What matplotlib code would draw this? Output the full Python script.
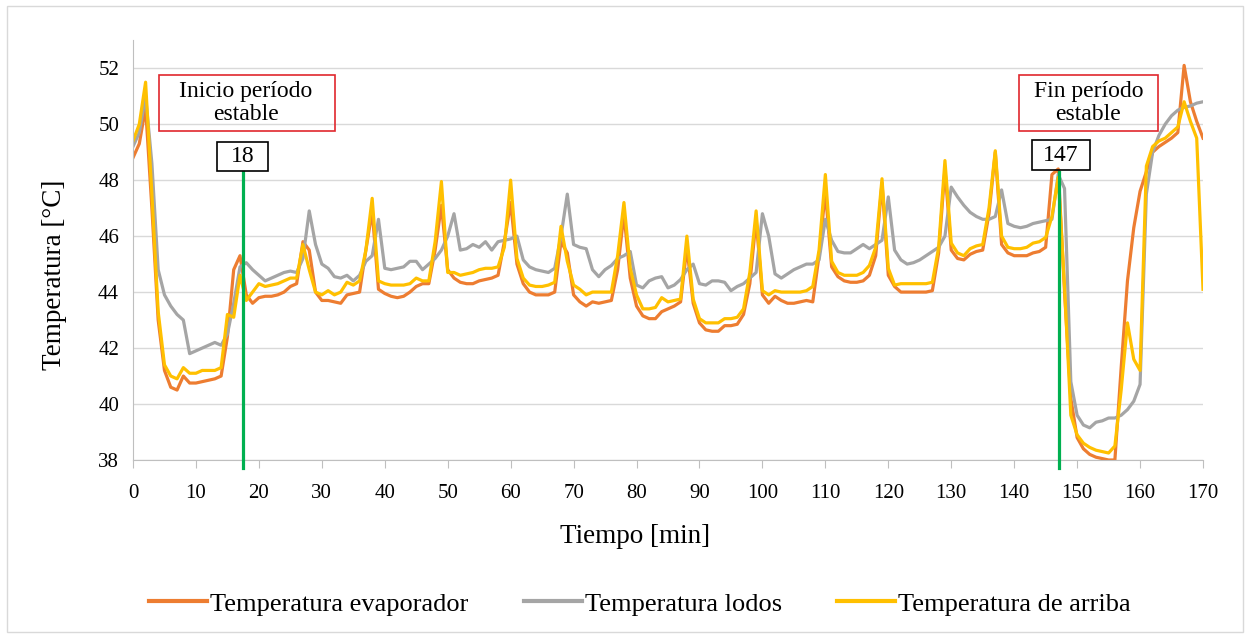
import numpy as np
import matplotlib
matplotlib.use('Agg')
import matplotlib.pyplot as plt
from matplotlib.patches import Rectangle

plt.rcParams['font.family'] = ['Liberation Serif', 'DejaVu Serif']

# tiempo [min], 0..170
tiempo = np.arange(0, 171)

evaporador = [
    48.8, 49.3, 50.6, 47.0, 43.0, 41.2, 40.6, 40.5, 41.0, 40.75,
    40.75, 40.8, 40.85, 40.9, 41.0, 42.4, 44.8, 45.3, 43.9, 43.6,
    43.8, 43.85, 43.85, 43.9, 44.0, 44.2, 44.3, 45.8, 45.5, 44.0,
    43.7, 43.7, 43.65, 43.6, 43.9, 43.95, 44.0, 45.5, 46.9, 44.1,
    43.95, 43.85, 43.8, 43.85, 44.0, 44.2, 44.3, 44.3, 45.5, 47.1,
    44.8, 44.5, 44.35, 44.3, 44.3, 44.4, 44.45, 44.5, 44.6, 45.8,
    47.2, 45.0, 44.3, 44.0, 43.9, 43.9, 43.9, 44.0, 45.8, 45.4,
    43.9, 43.65, 43.5, 43.65, 43.6, 43.65, 43.7, 44.8, 46.8, 44.5,
    43.5, 43.15, 43.05, 43.05, 43.3, 43.4, 43.5, 43.65, 45.6, 43.6,
    42.9, 42.65, 42.6, 42.6, 42.8, 42.8, 42.85, 43.2, 44.3, 46.6,
    43.9, 43.6, 43.85, 43.7, 43.6, 43.6, 43.65, 43.7, 43.65, 45.3,
    47.6, 44.9, 44.55, 44.4, 44.35, 44.35, 44.4, 44.6, 45.3, 47.9,
    44.6, 44.2, 44.0, 44.0, 44.0, 44.0, 44.0, 44.05, 45.4, 48.4,
    45.5, 45.2, 45.15, 45.35, 45.45, 45.5, 46.8, 49.0, 45.7, 45.4,
    45.3, 45.3, 45.3, 45.4, 45.45, 45.6, 48.2, 48.4, 44.0, 40.2,
    38.8, 38.4, 38.2, 38.1, 38.05, 38.0, 38.0, 41.3, 44.4, 46.3,
    47.6, 48.3, 49.0, 49.2, 49.35, 49.5, 49.7, 52.1, 50.8, 50.1,
    49.5]

lodos = [
    49.2, 49.7, 51.0, 48.6, 44.8, 43.9, 43.5, 43.2, 43.0, 41.8,
    41.9, 42.0, 42.1, 42.2, 42.1, 42.5, 43.6, 44.9, 45.05, 44.8,
    44.6, 44.4, 44.5, 44.6, 44.7, 44.75, 44.7, 45.2, 46.9, 45.7,
    45.0, 44.85, 44.55, 44.5, 44.6, 44.4, 44.6, 45.1, 45.3, 46.6,
    44.85, 44.8, 44.85, 44.9, 45.1, 45.1, 44.8, 45.0, 45.2, 45.5,
    46.0, 46.8, 45.5, 45.55, 45.7, 45.6, 45.8, 45.5, 45.8, 45.85,
    45.9, 46.0, 45.15, 44.9, 44.8, 44.75, 44.7, 44.85, 46.0, 47.5,
    45.7, 45.6, 45.55, 44.8, 44.55, 44.8, 44.95, 45.2, 45.3, 45.45,
    44.25, 44.15, 44.4, 44.5, 44.55, 44.15, 44.25, 44.45, 44.8, 45.0,
    44.3, 44.25, 44.4, 44.4, 44.35, 44.05, 44.2, 44.3, 44.5, 44.7,
    46.8, 46.0, 44.65, 44.5, 44.65, 44.8, 44.9, 45.0, 45.0, 45.15,
    46.6, 45.85, 45.45, 45.4, 45.4, 45.55, 45.7, 45.55, 45.7, 45.85,
    47.4, 45.5, 45.15, 45.0, 45.05, 45.15, 45.3, 45.45, 45.6, 46.0,
    47.75, 47.4, 47.1, 46.85, 46.7, 46.6, 46.6, 46.7, 47.65, 46.45,
    46.35, 46.3, 46.35, 46.45, 46.5, 46.55, 46.6, 48.2, 47.7, 40.8,
    39.6, 39.25, 39.15, 39.35, 39.4, 39.5, 39.5, 39.6, 39.8, 40.1,
    40.7, 47.5, 49.0, 49.6, 50.0, 50.3, 50.5, 50.6, 50.65, 50.75,
    50.8]

arriba = [
    49.4, 50.0, 51.5, 47.5, 43.3, 41.4, 41.0, 40.9, 41.3, 41.1,
    41.1, 41.2, 41.2, 41.2, 41.3, 43.2, 43.1, 44.6, 43.7, 44.0,
    44.3, 44.2, 44.25, 44.3, 44.4, 44.5, 44.5, 45.7, 44.8, 44.0,
    43.9, 44.05, 43.9, 44.0, 44.35, 44.25, 44.4, 45.5, 47.35, 44.4,
    44.3, 44.25, 44.25, 44.25, 44.3, 44.5, 44.4, 44.4, 45.8, 47.95,
    44.7, 44.7, 44.6, 44.65, 44.7, 44.8, 44.85, 44.85, 44.9, 45.6,
    48.0, 45.2, 44.5, 44.25, 44.2, 44.2, 44.25, 44.35, 46.35, 45.1,
    44.25, 44.1, 43.9, 44.0, 44.0, 44.0, 44.0, 45.3, 47.2, 44.85,
    43.9, 43.4, 43.4, 43.45, 43.8, 43.65, 43.7, 43.75, 46.0, 43.75,
    43.05, 42.9, 42.9, 42.9, 43.05, 43.05, 43.1, 43.4, 44.7, 46.9,
    44.05, 43.9, 44.05, 44.0, 44.0, 44.0, 44.0, 44.05, 44.2, 45.5,
    48.2, 45.1, 44.7, 44.6, 44.6, 44.6, 44.7, 44.95, 45.6, 48.05,
    44.85, 44.25, 44.3, 44.3, 44.3, 44.3, 44.3, 44.35, 45.6, 48.7,
    45.75, 45.4, 45.3, 45.55, 45.65, 45.7, 47.0, 49.05, 46.0, 45.6,
    45.55, 45.55, 45.6, 45.75, 45.8, 45.95, 46.7, 48.1, 44.2, 39.6,
    38.9, 38.6, 38.45, 38.35, 38.3, 38.25, 38.5, 40.5, 42.9, 41.6,
    41.2, 48.5, 49.2, 49.4, 49.5, 49.7, 49.9, 50.8, 50.1, 49.5,
    44.1]

inicio = 17.5
fin = 147.1

fig = plt.figure(figsize=(12.5, 6.38), dpi=100)
ax = fig.add_axes([0.1064, 0.279, 0.856, 0.658])

ax.plot(tiempo, evaporador, color='#ED7D31', lw=2.3, label='Temperatura evaporador')
ax.plot(tiempo, lodos, color='#A5A5A5', lw=2.3, label='Temperatura lodos')
ax.plot(tiempo, arriba, color='#FFC000', lw=2.3, label='Temperatura de arriba')

ax.plot([inicio, inicio], [37.7, 48.3], color='#00B050', lw=2.3, clip_on=False, zorder=5)
ax.plot([fin, fin], [37.7, 48.3], color='#00B050', lw=2.3, clip_on=False, zorder=5)

# cuadros de texto (sin relleno, como en Excel)
ax.add_patch(Rectangle((4.13, 49.75), 27.96, 2.0, fill=False, ec='#E0282E', lw=1.2, zorder=6))
ax.add_patch(Rectangle((140.8, 49.75), 22.0, 2.0, fill=False, ec='#E0282E', lw=1.2, zorder=6))
ax.add_patch(Rectangle((13.35, 48.32), 8.1, 1.04, fill=False, ec='black', lw=1.2, zorder=6))
ax.add_patch(Rectangle((142.83, 48.36), 9.22, 1.07, fill=False, ec='black', lw=1.2, zorder=6))

ax.text(17.95, 50.75, 'Inicio período\nestable', ha='center', va='center', fontsize=17,
        linespacing=1.12, zorder=7)
ax.text(151.8, 50.75, 'Fin período\nestable', ha='center', va='center', fontsize=17,
        linespacing=1.12, zorder=7)
ax.text(17.4, 48.84, '18', ha='center', va='center', fontsize=17, zorder=7)
ax.text(147.4, 48.88, '147', ha='center', va='center', fontsize=17, zorder=7)

ax.set_xlim(0, 170)
ax.set_ylim(38, 53)
ax.set_xticks(np.arange(0, 171, 10))
ax.set_yticks(np.arange(38, 53, 2))
ax.grid(axis='y', color='#D9D9D9', lw=1)
ax.set_axisbelow(True)
for s in ['top', 'right']:
    ax.spines[s].set_visible(False)
for s in ['left', 'bottom']:
    ax.spines[s].set_color('#BFBFBF')
ax.tick_params(axis='y', length=0, labelsize=15, pad=10)
ax.tick_params(axis='x', length=6, color='#BFBFBF', labelsize=15, pad=11)

ax.set_xlabel('Tiempo [min]', fontsize=19.5)
ax.set_ylabel('Temperatura [°C]', fontsize=19.5)
ax.xaxis.set_label_coords(0.469, -0.152)
ax.yaxis.set_label_coords(-0.0615, 0.44)

leg = fig.legend(loc='center', bbox_to_anchor=(0.512, 0.0533), ncol=3, frameon=False,
                 fontsize=19, handlelength=2.2, columnspacing=2.1, handletextpad=0.11)
for line in leg.get_lines():
    line.set_linewidth(3)

fig.patches.append(Rectangle((7 / 1250, 6 / 638), 1236 / 1250, 626 / 638,
                             transform=fig.transFigure, fill=False, ec='#D9D9D9', lw=1))

fig.savefig('out.png', dpi=100)
